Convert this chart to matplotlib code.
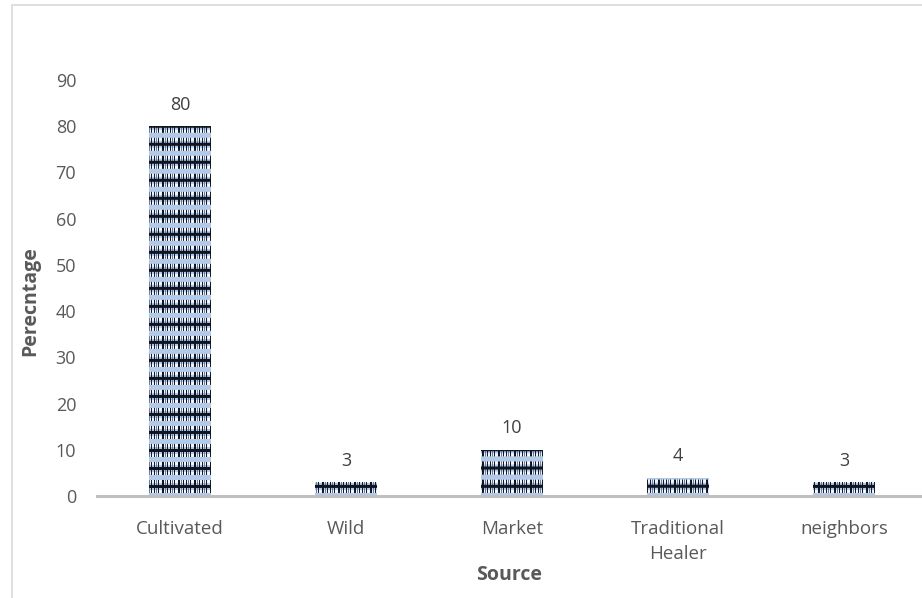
import numpy as np
import matplotlib
matplotlib.use("Agg")
import matplotlib.pyplot as plt
from matplotlib.patches import Rectangle

sources = ["Cultivated", "Wild", "Market", "Traditional\nHealer", "neighbors"]
percentages = [80, 3, 10, 4, 3]
y_ticks = [0, 10, 20, 30, 40, 50, 60, 70, 80, 90]

TEXT = "#595959"
AXIS_GREY = "#bfbfbf"

plt.rcParams["font.family"] = ["Open Sans", "DejaVu Sans"]

fig = plt.figure(figsize=(9.22, 5.98), dpi=100)
ax = fig.add_axes([97 / 922, 102 / 598, 830 / 922, 416 / 598])

# outer chart frame
fig.patches.append(Rectangle((12 / 922, -0.02), 1.0, 1.0 - 5 / 598 + 0.02,
                             transform=fig.transFigure, fill=False,
                             edgecolor="#d9d9d9", linewidth=1.2))


def texture(h, w):
    """Woven blue/black fill used inside the bars (pixel-space tile)."""
    base = np.array([0.70, 0.79, 0.91])
    dark = np.array([0.06, 0.08, 0.12])
    img = np.empty((h, w, 3))
    img[:] = base
    yy, xx = np.mgrid[0:h, 0:w]
    row = (h - 1 - yy) % 18
    col = xx % 16
    band = (row >= 3) & (row <= 15)
    white = band & ((row <= 5) | (row >= 13))
    img[white] = [0.97, 0.97, 0.99]
    mid = (row >= 8) & (row <= 10)
    img[mid] = dark
    ticks = band & ((col == 1) | (col == 2) | (col == 6) | (col == 9) | (col == 13))
    img[ticks] = dark
    light_ticks = band & ((col == 4) | (col == 11)) & ~mid
    img[light_ticks] = [0.35, 0.48, 0.70]
    return img


x = np.arange(len(sources))
bars = ax.bar(x, percentages, width=0.373, color="#b8cce4", linewidth=0, zorder=2)

ax.set_xlim(-0.5, len(sources) - 0.5)
ax.set_ylim(0, 90)

tile = texture(416, 830)
for b in bars:
    im = ax.imshow(tile, extent=(-0.5, len(sources) - 0.5, 0, 90), aspect="auto",
                   interpolation="bilinear", zorder=3, origin="upper")
    im.set_clip_path(b)

for xi, v in zip(x, percentages):
    ax.annotate(f"{v}", (xi, v), xytext=(0, 9), textcoords="offset points",
                ha="center", va="bottom", fontsize=13, color="#404040")

ax.set_xticks(x)
ax.set_xticklabels(sources, fontsize=13.5, color=TEXT, linespacing=1.55)
ax.set_yticks(y_ticks)
ax.set_yticklabels([str(t) for t in y_ticks], fontsize=13, color=TEXT)
ax.tick_params(axis="both", length=0)
ax.tick_params(axis="x", pad=17)
ax.tick_params(axis="y", pad=15)

for side in ("top", "right", "left"):
    ax.spines[side].set_visible(False)
ax.spines["bottom"].set_color(AXIS_GREY)
ax.spines["bottom"].set_linewidth(2.2)
ax.spines["bottom"].set_zorder(4)

ax.set_xlabel("Source", fontsize=14, fontweight="bold", color=TEXT, va="center")
ax.xaxis.set_label_coords((509 - 97) / 830, (496 - 575) / 416)
ax.set_ylabel("Perecntage", fontsize=14, fontweight="bold", color=TEXT, va="center")
ax.yaxis.set_label_coords((30 - 97) / 830, (496 - 301) / 416)

fig.savefig("out.png", dpi=100)
